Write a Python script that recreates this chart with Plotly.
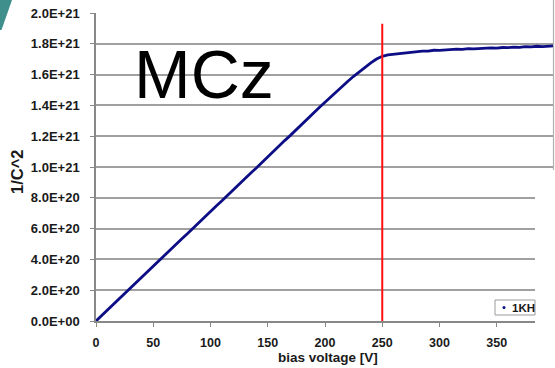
import plotly.graph_objects as go

# bias voltage [V] and measured 1/C^2 (in units of 1E+21) for the MCz diode at 1 kHz
bias_voltage = [
    0, 5, 10, 15, 20, 25, 30, 35, 40, 45, 50, 55, 60, 65, 70, 75, 80, 85, 90, 95,
    100, 105, 110, 115, 120, 125, 130, 135, 140, 145, 150, 155, 160, 165, 170, 175,
    180, 185, 190, 195, 200, 205, 210, 215, 220, 225, 230, 235, 240, 245, 250, 255,
    260, 265, 270, 275, 280, 285, 290, 295, 300, 305, 310, 315, 320, 325, 330, 335,
    340, 345, 350, 355, 360, 365, 370, 375, 380, 385, 390, 395, 400,
]
inv_c2_e21 = [
    0.000, 0.036, 0.070, 0.108, 0.141, 0.179, 0.212, 0.250, 0.283, 0.321, 0.355, 0.392,
    0.426, 0.463, 0.497, 0.534, 0.568, 0.605, 0.639, 0.676, 0.710, 0.747, 0.781, 0.818,
    0.852, 0.889, 0.923, 0.960, 0.994, 1.031, 1.065, 1.102, 1.136, 1.173, 1.207, 1.244,
    1.278, 1.315, 1.349, 1.386, 1.420, 1.456, 1.490, 1.524, 1.557, 1.589, 1.619, 1.649,
    1.676, 1.701, 1.719, 1.728, 1.732, 1.738, 1.741, 1.746, 1.748, 1.752, 1.753, 1.758,
    1.757, 1.761, 1.762, 1.765, 1.764, 1.768, 1.767, 1.770, 1.769, 1.773, 1.772, 1.776,
    1.775, 1.779, 1.777, 1.781, 1.780, 1.784, 1.782, 1.786, 1.787,
]
series_name = "1KH"
depletion_voltage = 250

x_tick_values = [0, 50, 100, 150, 200, 250, 300, 350]
y_tick_values_e21 = [0.0, 0.2, 0.4, 0.6, 0.8, 1.0, 1.2, 1.4, 1.6, 1.8, 2.0]
y_tick_labels = [
    "0.0E+00", "2.0E+20", "4.0E+20", "6.0E+20", "8.0E+20", "1.0E+21",
    "1.2E+21", "1.4E+21", "1.6E+21", "1.8E+21", "2.0E+21",
]

SCALE = 1e21
y_values = [v * SCALE for v in inv_c2_e21]
y_tick_values = [v * SCALE for v in y_tick_values_e21]

W, H = 555, 368
ML, MR, MT, MB = 96, 1, 13, 47
PL, PR, PT, PB = ML, W - MR, MT, H - MB


def px(x):
    return (x - PL) / (PR - PL)


def py(y):
    return (PB - y) / (PB - PT)


FONT = "Liberation Sans, Arial, sans-serif"
GRID = "#a0a0a0"
AXIS = "#888888"
NAVY = "#0d0d86"

fig = go.Figure()
fig.add_trace(go.Scatter(
    x=bias_voltage, y=y_values, mode="lines", name=series_name,
    line=dict(color=NAVY, width=2.8), showlegend=False,
))

fig.update_layout(
    width=W, height=H,
    margin=dict(l=ML, r=MR, t=MT, b=MB, pad=0),
    paper_bgcolor="white", plot_bgcolor="white",
    font=dict(family=FONT, color="#1a1a1a"),
    xaxis=dict(
        range=[0, 400], tickvals=x_tick_values, ticks="outside", ticklen=4,
        tickcolor=AXIS, tickwidth=1, showgrid=False, zeroline=False,
        showline=True, linecolor=AXIS, linewidth=1.5,
        tickfont=dict(size=12.5, family=FONT, weight="bold", color="#1a1a1a"),
        ticklabelstandoff=5,
    ),
    yaxis=dict(
        range=[0, 2.0 * SCALE], tickvals=y_tick_values, ticktext=y_tick_labels,
        ticks="outside", ticklen=4, tickcolor=AXIS, tickwidth=1,
        showgrid=True, gridcolor=GRID, gridwidth=1.5, zeroline=False,
        showline=True, linecolor=AXIS, linewidth=1.5,
        tickfont=dict(size=13, family=FONT, weight="bold", color="#1a1a1a"),
        ticklabelstandoff=8,
    ),
)

shapes = []
# depletion voltage marker
shapes.append(dict(
    type="line", xref="x", yref="y", x0=depletion_voltage, x1=depletion_voltage,
    y0=0, y1=1.93 * SCALE, line=dict(color="#ff1010", width=2), layer="above",
))
# white panel covering the lower right edge of the chart
shapes.append(dict(
    type="rect", xref="paper", yref="paper", x0=px(535), x1=px(W + 5),
    y0=py(H + 5), y1=py(170), fillcolor="white", line=dict(width=0), layer="above",
))
# right border line of the upper panel
shapes.append(dict(
    type="line", xref="paper", yref="paper", x0=px(553.5), x1=px(553.5),
    y0=py(170), y1=py(0), line=dict(color="#b0b0b0", width=1.2), layer="above",
))
# legend box (cut by the panel edge)
shapes.append(dict(
    type="rect", xref="paper", yref="paper", x0=px(495), x1=px(535),
    y0=py(315), y1=py(300), fillcolor="white",
    line=dict(color="#9a9a9a", width=1), layer="above",
))
shapes.append(dict(
    type="circle", xref="paper", yref="paper", x0=px(502.5), x1=px(505.5),
    y0=py(309), y1=py(306), fillcolor=NAVY, line=dict(width=0), layer="above",
))
# teal corner decoration
shapes.append(dict(
    type="path", xref="paper", yref="paper",
    path=f"M {px(0)},{py(0)} L {px(12)},{py(0)} L {px(1.5)},{py(30)} L {px(0)},{py(30)} Z",
    fillcolor="#3f8f8c", line=dict(width=0), layer="above",
))
fig.update_layout(shapes=shapes)

annotations = [
    dict(text=series_name, xref="paper", yref="paper", x=px(510), y=py(307.5),
         xanchor="left", yanchor="middle", showarrow=False,
         font=dict(size=11.5, family=FONT, weight="bold", color="#1a1a1a")),
    dict(text="MCz", xref="paper", yref="paper", x=px(204), y=py(74),
         xanchor="center", yanchor="middle", showarrow=False,
         font=dict(size=68, family=FONT, color="black")),
    dict(text="1/C^2", xref="paper", yref="paper", x=px(17), y=py(172),
         xanchor="center", yanchor="middle", textangle=-90, showarrow=False,
         font=dict(size=16.5, family=FONT, weight="bold", color="#1a1a1a")),
    dict(text="bias voltage [V]", xref="paper", yref="paper", x=px(328), y=py(357),
         xanchor="center", yanchor="middle", showarrow=False,
         font=dict(size=13.5, family=FONT, weight="bold", color="#1a1a1a")),
]
fig.update_layout(annotations=annotations)

fig.write_html("out.html")
